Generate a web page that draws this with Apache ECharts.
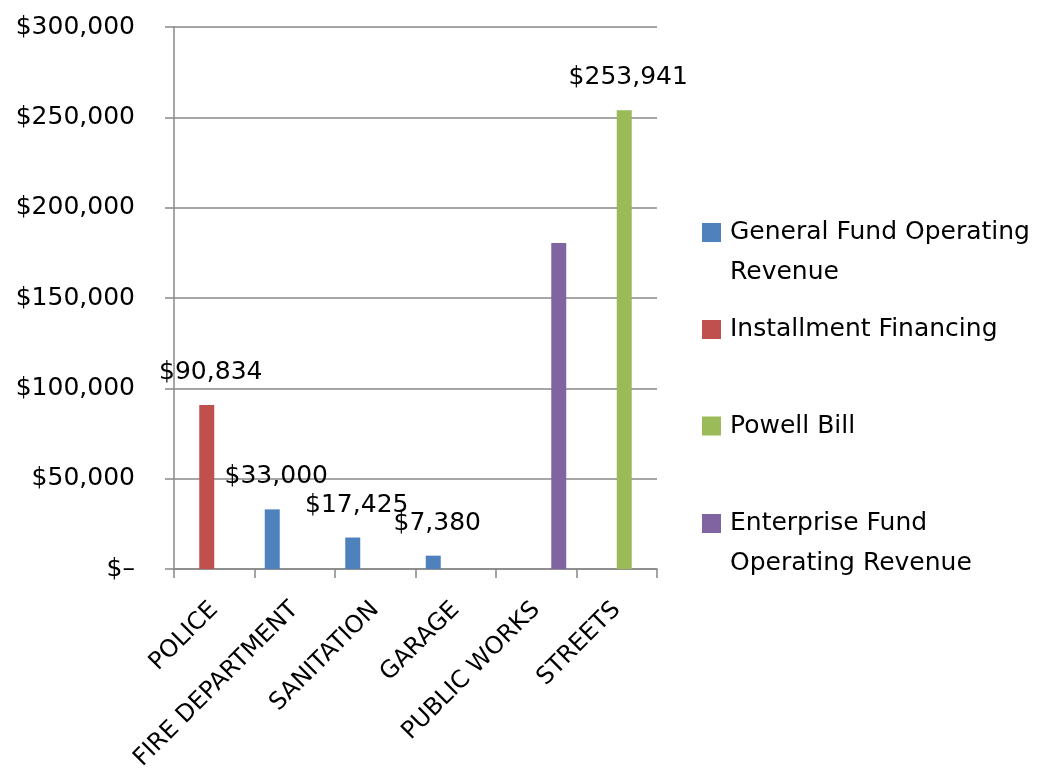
<!DOCTYPE html>
<html>
<head>
<meta charset="utf-8">
<script src="https://cdn.jsdelivr.net/npm/echarts@6/dist/echarts.min.js"></script>
<style>html,body{margin:0;padding:0;background:#fff}#c{width:1042px;height:777px}</style>
</head>
<body>
<div id="c"></div>
<script>
var categories = ['POLICE', 'FIRE DEPARTMENT', 'SANITATION', 'GARAGE', 'PUBLIC WORKS', 'STREETS'];
var seriesNames = ['General Fund Operating Revenue', 'Installment Financing', 'Powell Bill', 'Enterprise Fund Operating Revenue'];
var generalFund = [null, 33000, 17425, 7380, null, null];
var installment = [90834, null, null, null, null, null];
var powellBill = [null, null, null, null, null, 253941];
var enterprise = [null, null, null, null, 180500, null];
var yTicks = [0, 50000, 100000, 150000, 200000, 250000, 300000];

var colors = ['#4F81BD', '#C0504D', '#9BBB59', '#8064A2'];
var FONT = 'DejaVu Sans';

function money(v) {
  if (v === 0) return '$\u2013';
  return '$' + String(v).replace(/\B(?=(\d{3})+(?!\d))/g, ',');
}

var chart = echarts.init(document.getElementById('c'), null, {renderer: 'canvas'});

var barLabel = {
  show: true, position: 'top', distance: 20, offset: [4, 0],
  fontFamily: FONT, fontSize: 25, color: '#000',
  formatter: function (p) { return money(p.value); }
};

function mkSeries(i, data, showLabel) {
  return {
    name: seriesNames[i], type: 'bar', data: data,
    barWidth: 15, barGap: '0%', barCategoryGap: '25%',
    itemStyle: {color: colors[i]},
    label: showLabel ? barLabel : {show: false}
  };
}

function mkLegend(i, top, text) {
  return {
    data: [seriesNames[i]], left: 702, top: top, padding: 0,
    orient: 'vertical', itemWidth: 19, itemHeight: 19, itemGap: 8,
    icon: 'rect', selectedMode: false,
    formatter: function () { return text; },
    textStyle: {
      fontFamily: FONT, fontSize: 25, color: '#000', lineHeight: 40,
      padding: [0, 0, 0, 4]
    }
  };
}

var option = {
  animation: false,
  backgroundColor: '#fff',
  color: colors,
  grid: {left: 174, right: 385, top: 27, bottom: 208, containLabel: false},
  legend: [
    mkLegend(0, 172.5, '\nGeneral Fund Operating\nRevenue'),
    mkLegend(1, 309.5, 'Installment Financing'),
    mkLegend(2, 406, 'Powell Bill'),
    mkLegend(3, 463.5, '\nEnterprise Fund\nOperating Revenue')
  ],
  xAxis: {
    type: 'category',
    data: categories,
    axisLine: {lineStyle: {color: '#888', width: 1.5}},
    axisTick: {show: true, length: 9, alignWithLabel: false, lineStyle: {color: '#888', width: 1.5}},
    axisLabel: {
      interval: 0, rotate: 45, margin: 37,
      fontFamily: FONT, fontSize: 24, color: '#000'
    }
  },
  yAxis: {
    type: 'value', min: yTicks[0], max: yTicks[yTicks.length - 1], interval: 50000,
    axisLine: {show: true, lineStyle: {color: '#888', width: 1.5}},
    axisTick: {show: true, length: 9, lineStyle: {color: '#888', width: 1.5}},
    splitLine: {show: true, lineStyle: {color: '#888', width: 1.5}},
    axisLabel: {
      margin: 39, fontFamily: FONT, fontSize: 25, color: '#000',
      formatter: function (v) { return money(v); }
    }
  },
  series: [
    mkSeries(0, generalFund, true),
    mkSeries(1, installment, true),
    mkSeries(2, powellBill, true),
    mkSeries(3, enterprise, false)
  ]
};
chart.setOption(option);
</script>
</body>
</html>
